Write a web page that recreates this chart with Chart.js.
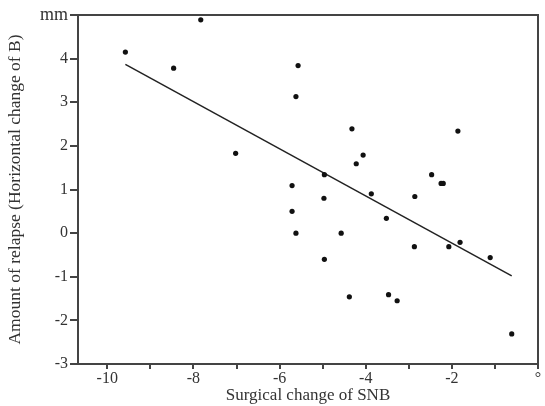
<!DOCTYPE html>
<html>
<head>
<meta charset="utf-8">
<script src="https://cdn.jsdelivr.net/npm/chart.js@4"></script>
<style>
  html, body { margin: 0; padding: 0; background: #fff; }
  #wrap { width: 545px; height: 406px; }
</style>
</head>
<body>
<div id="wrap"><canvas id="c"></canvas></div>
<script>
// surgical change of SNB (deg) vs relapse (mm)
const snbChange = [-9.58, -8.46, -7.83, -7.02, -5.57, -5.62, -5.71, -4.96, -4.97, -4.32,
  -4.06, -4.22, -3.87, -2.86, -2.47, -2.25, -2.20, -1.86, -5.71, -5.62,
  -4.96, -4.57, -4.38, -3.52, -3.47, -3.27, -2.87, -2.07, -1.81, -1.11, -0.61];
const relapse = [4.15, 3.78, 4.89, 1.83, 3.84, 3.13, 1.09, 1.34, 0.80, 2.39,
  1.79, 1.59, 0.90, 0.84, 1.34, 1.14, 1.14, 2.34, 0.50, 0.00,
  -0.60, 0.00, -1.46, 0.34, -1.41, -1.55, -0.31, -0.31, -0.21, -0.56, -2.31];

// regression line end points
const fitX = [-9.58, -0.61];
const fitY = [3.87, -0.98];

const xTicks = [-10, -9, -8, -7, -6, -5, -4, -3, -2, -1, 0];

const ink = '#333';
const axisCol = '#444';
const serif = "'Liberation Serif', 'DejaVu Serif', serif";

const frame = {
  id: 'frame',
  afterDraw(chart) {
    const { ctx, chartArea: a } = chart;
    ctx.save();
    ctx.strokeStyle = axisCol;
    ctx.lineWidth = 2;
    ctx.beginPath();
    ctx.moveTo(a.left, a.top);
    ctx.lineTo(a.right, a.top);
    ctx.lineTo(a.right, a.bottom);
    ctx.stroke();
    ctx.restore();
  }
};

new Chart(document.getElementById('c'), {
  type: 'scatter',
  data: {
    datasets: [
      {
        data: snbChange.map((x, i) => ({ x, y: relapse[i] })),
        backgroundColor: '#111',
        borderWidth: 0,
        pointRadius: 2.6
      },
      {
        type: 'line',
        data: fitX.map((x, i) => ({ x, y: fitY[i] })),
        borderColor: '#222',
        borderWidth: 1.5,
        pointRadius: 0,
        fill: false
      }
    ]
  },
  options: {
    responsive: true,
    maintainAspectRatio: false,
    animation: false,
    layout: { padding: { top: 15, right: 7, left: 0, bottom: 0 } },
    plugins: { legend: { display: false }, tooltip: { enabled: false } },
    scales: {
      x: {
        type: 'linear',
        min: -10.68,
        max: 0,
        afterBuildTicks(scale) { scale.ticks = xTicks.map(v => ({ value: v })); },
        afterFit(scale) { scale.height = 42; },
        border: { color: axisCol, width: 2 },
        grid: { drawOnChartArea: false, color: axisCol, lineWidth: 2, tickLength: 5 },
        ticks: {
          color: ink,
          font: { family: serif, size: 16 },
          padding: 0,
          maxRotation: 0,
          autoSkip: false,
          callback: v => (v === 0 ? '°' : (v % 2 === 0 ? v : ''))
        },
        title: {
          display: true,
          text: 'Surgical change of SNB',
          color: ink,
          font: { family: serif, size: 17 },
          padding: { top: -5, bottom: 0 }
        }
      },
      y: {
        min: -3,
        max: 5,
        afterFit(scale) { scale.width = 78; },
        border: { color: axisCol, width: 2 },
        grid: { drawOnChartArea: false, color: axisCol, lineWidth: 2, tickLength: 8 },
        ticks: {
          stepSize: 1,
          color: ink,
          font: c => ({ family: serif, size: c.tick && c.tick.value === 5 ? 18 : 16 }),
          padding: 2,
          callback: v => (v === 5 ? 'mm' : v)
        },
        title: {
          display: true,
          text: 'Amount of relapse (Horizontal change of B)',
          color: ink,
          font: { family: serif, size: 17.5 },
          padding: { top: 5, bottom: 0 }
        }
      }
    }
  },
  plugins: [frame]
});
</script>
</body>
</html>
